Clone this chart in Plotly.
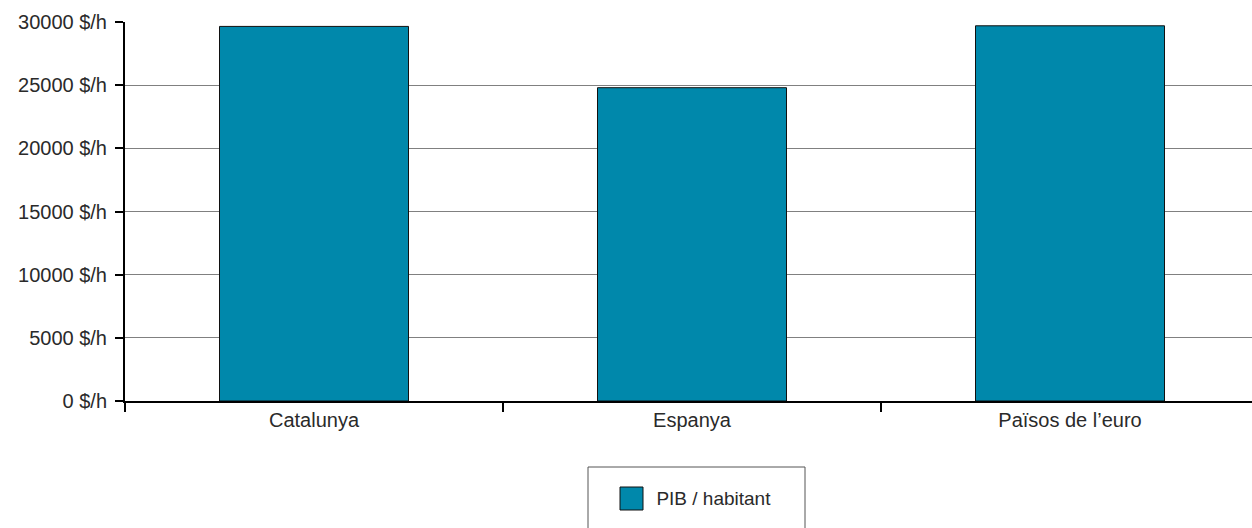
import plotly.graph_objects as go

categories = ["Catalunya", "Espanya", "Països de l\u2019euro"]
values = [29650, 24800, 29700]
series_name = "PIB / habitant"
y_tickvals = [0, 5000, 10000, 15000, 20000, 25000, 30000]
y_ticktext = [f"{v} $/h" for v in y_tickvals]

BAR = "#0088ab"
FONT = dict(family="Liberation Sans, Arial, sans-serif", size=20, color="#2a2a2a")

L, T, W, H = 125, 22, 1252, 528
PB = 401
PW, PH = W - L, PB - T


def px(x):
    return (x - L) / PW


def py(y):
    return (PB - y) / PH


fig = go.Figure()
fig.add_trace(go.Bar(
    x=categories, y=values, marker=dict(color=BAR, line=dict(color="#111111", width=1)),
    showlegend=False, name=series_name,
))
fig.add_trace(go.Scatter(
    x=[None], y=[None], mode="markers", name=series_name,
    marker=dict(symbol="square", size=16, color="rgba(0,0,0,0)", line=dict(width=0)),
))

fig.update_layout(
    width=W, height=H,
    margin=dict(l=L, r=0, t=T, b=H - PB),
    plot_bgcolor="white", paper_bgcolor="white",
    font=FONT,
    bargap=0.5,
    xaxis=dict(
        type="category", range=[-0.5, -0.5 + PW / 378],
        showline=True, linecolor="black", linewidth=2,
        ticks="outside", tickson="boundaries", ticklen=9, tickwidth=2, tickcolor="black",
        showgrid=False, zeroline=False,
    ),
    yaxis=dict(
        range=[0, 30000], tickvals=y_tickvals, ticktext=y_ticktext,
        showline=True, linecolor="black", linewidth=2,
        ticks="outside", ticklen=8, tickwidth=2, tickcolor="black", ticklabelstandoff=4,
        showgrid=True, gridcolor="#808080", gridwidth=1, zeroline=False,
    ),
    legend=dict(
        orientation="h", x=0.507, xanchor="center", y=-0.2055, yanchor="top",
        bgcolor="rgba(0,0,0,0)", borderwidth=0,
        font=dict(family=FONT["family"], size=19, color="#2a2a2a"),
    ),
    shapes=[
        dict(type="rect", xref="paper", yref="paper",
             x0=px(588), x1=px(805), y0=py(540), y1=py(467),
             line=dict(color="#555555", width=1), fillcolor="rgba(0,0,0,0)"),
        dict(type="rect", xref="paper", yref="paper",
             x0=px(620), x1=px(643), y0=py(510), y1=py(487),
             line=dict(color="#111111", width=1), fillcolor=BAR),
    ],
)

fig.write_html("out.html", config={"displayModeBar": False},
               post_script="document.body.style.margin='0';")
